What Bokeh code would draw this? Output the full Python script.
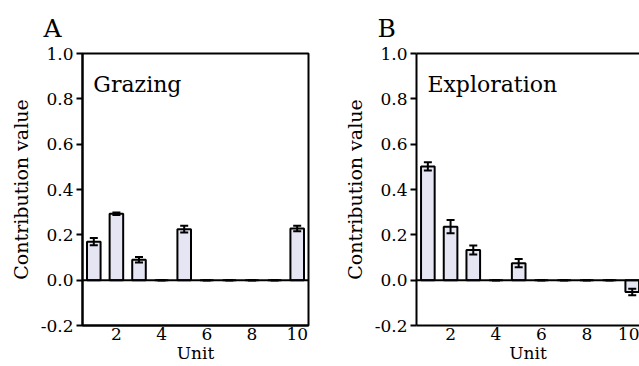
from bokeh.plotting import figure
from bokeh.layouts import row
from bokeh.models import ColumnDataSource, Whisker, Span, Label, LinearAxis, FixedTicker, Range1d
from bokeh.embed import file_html
from bokeh.resources import INLINE

units = [1, 2, 3, 4, 5, 6, 7, 8, 9, 10]
grazing = [0.17, 0.293, 0.09, 0.0, 0.225, 0.0, 0.0, 0.0, 0.0, 0.228]
grazing_err = [0.016, 0.006, 0.012, 0.001, 0.015, 0.001, 0.001, 0.001, 0.001, 0.012]
exploration = [0.502, 0.236, 0.133, 0.0, 0.075, 0.0, 0.0, 0.0, 0.0, -0.052]
exploration_err = [0.018, 0.029, 0.02, 0.001, 0.018, 0.001, 0.001, 0.001, 0.001, 0.014]
y_ticks = [-0.2, 0.0, 0.2, 0.4, 0.6, 0.8, 1.0]
x_ticks = [2, 4, 6, 8, 10]

FONT = "DejaVu Serif"
FILL = "#e5e5f3"


def make_panel(letter, name, vals, errs, width, x_end, right_border):
    p = figure(width=width, height=366, output_backend="svg", toolbar_location=None,
               x_range=Range1d(0.5, x_end), y_range=Range1d(-0.2, 1.0),
               min_border_left=82, min_border_right=right_border,
               min_border_top=53, min_border_bottom=41)
    p.title.text = letter
    p.title.text_font = FONT
    p.title.text_font_size = "25px"
    p.title.text_font_style = "normal"
    p.title.text_color = "black"
    p.title.align = "left"
    p.title.offset = -39
    p.title.standoff = 22
    p.grid.visible = False
    p.background_fill_color = "white"
    p.border_fill_color = "white"

    src = ColumnDataSource(dict(x=units, top=vals,
                                lo=[v - e for v, e in zip(vals, errs)],
                                hi=[v + e for v, e in zip(vals, errs)]))
    p.vbar(x="x", top="top", bottom=0, width=0.6, source=src,
           fill_color=FILL, line_color="black", line_width=2)
    p.add_layout(Span(location=0, dimension="width", line_color="black", line_width=2))
    w = Whisker(base="x", lower="lo", upper="hi", source=src, line_color="black",
                line_width=2, level="overlay")
    w.upper_head.size = 8
    w.lower_head.size = 8
    w.upper_head.line_width = 2
    w.lower_head.line_width = 2
    p.add_layout(w)

    p.add_layout(Label(x=0.98, y=0.81, text=name, text_font=FONT,
                       text_font_size="22px", text_color="black"))

    yax = p.yaxis[0]
    yax.ticker = FixedTicker(ticks=y_ticks)
    yax.minor_tick_line_color = None
    yax.major_tick_in = 0
    yax.major_tick_out = 6
    yax.major_tick_line_width = 2
    yax.axis_line_width = 2
    yax.major_label_text_font = FONT
    yax.major_label_text_font_size = "17px"
    yax.major_label_text_color = "black"
    yax.major_label_standoff = 3
    yax.axis_label = "Contribution value"
    yax.axis_label_text_font = FONT
    yax.axis_label_text_font_size = "19px"
    yax.axis_label_text_font_style = "normal"
    yax.axis_label_text_color = "black"
    yax.axis_label_standoff = 6
    yax.major_label_overrides = {-0.2: "-0.2", 0.0: "0.0", 0.2: "0.2", 0.4: "0.4",
                                 0.6: "0.6", 0.8: "0.8", 1.0: "1.0"}

    xax = p.xaxis[0]
    xax.ticker = FixedTicker(ticks=x_ticks)
    xax.minor_tick_line_color = None
    xax.major_tick_line_color = None
    xax.major_tick_in = 0
    xax.major_tick_out = 0
    xax.axis_line_width = 2
    xax.major_label_text_font = FONT
    xax.major_label_text_font_size = "17px"
    xax.major_label_text_color = "black"
    xax.major_label_standoff = 2
    xax.axis_label = "Unit"
    xax.axis_label_text_font = FONT
    xax.axis_label_text_font_size = "17px"
    xax.axis_label_text_font_style = "normal"
    xax.axis_label_text_color = "black"
    xax.axis_label_standoff = 0

    if right_border > 0:
        p.outline_line_color = "black"
        p.outline_line_width = 2
        p.outline_line_alpha = 1.0
    else:
        p.outline_line_color = None
        top = LinearAxis(ticker=FixedTicker(ticks=[]), axis_line_width=2,
                         major_tick_line_color=None, minor_tick_line_color=None,
                         major_label_text_font_size="0px")
        p.add_layout(top, "above")
    return p


pa = make_panel("A", "Grazing", grazing, grazing_err, 334, 10.5, 26)
pb = make_panel("B", "Exploration", exploration, exploration_err, 305, 10.32, 0)

layout = row(pa, pb)
open("out.html", "w").write(file_html(layout, INLINE))
